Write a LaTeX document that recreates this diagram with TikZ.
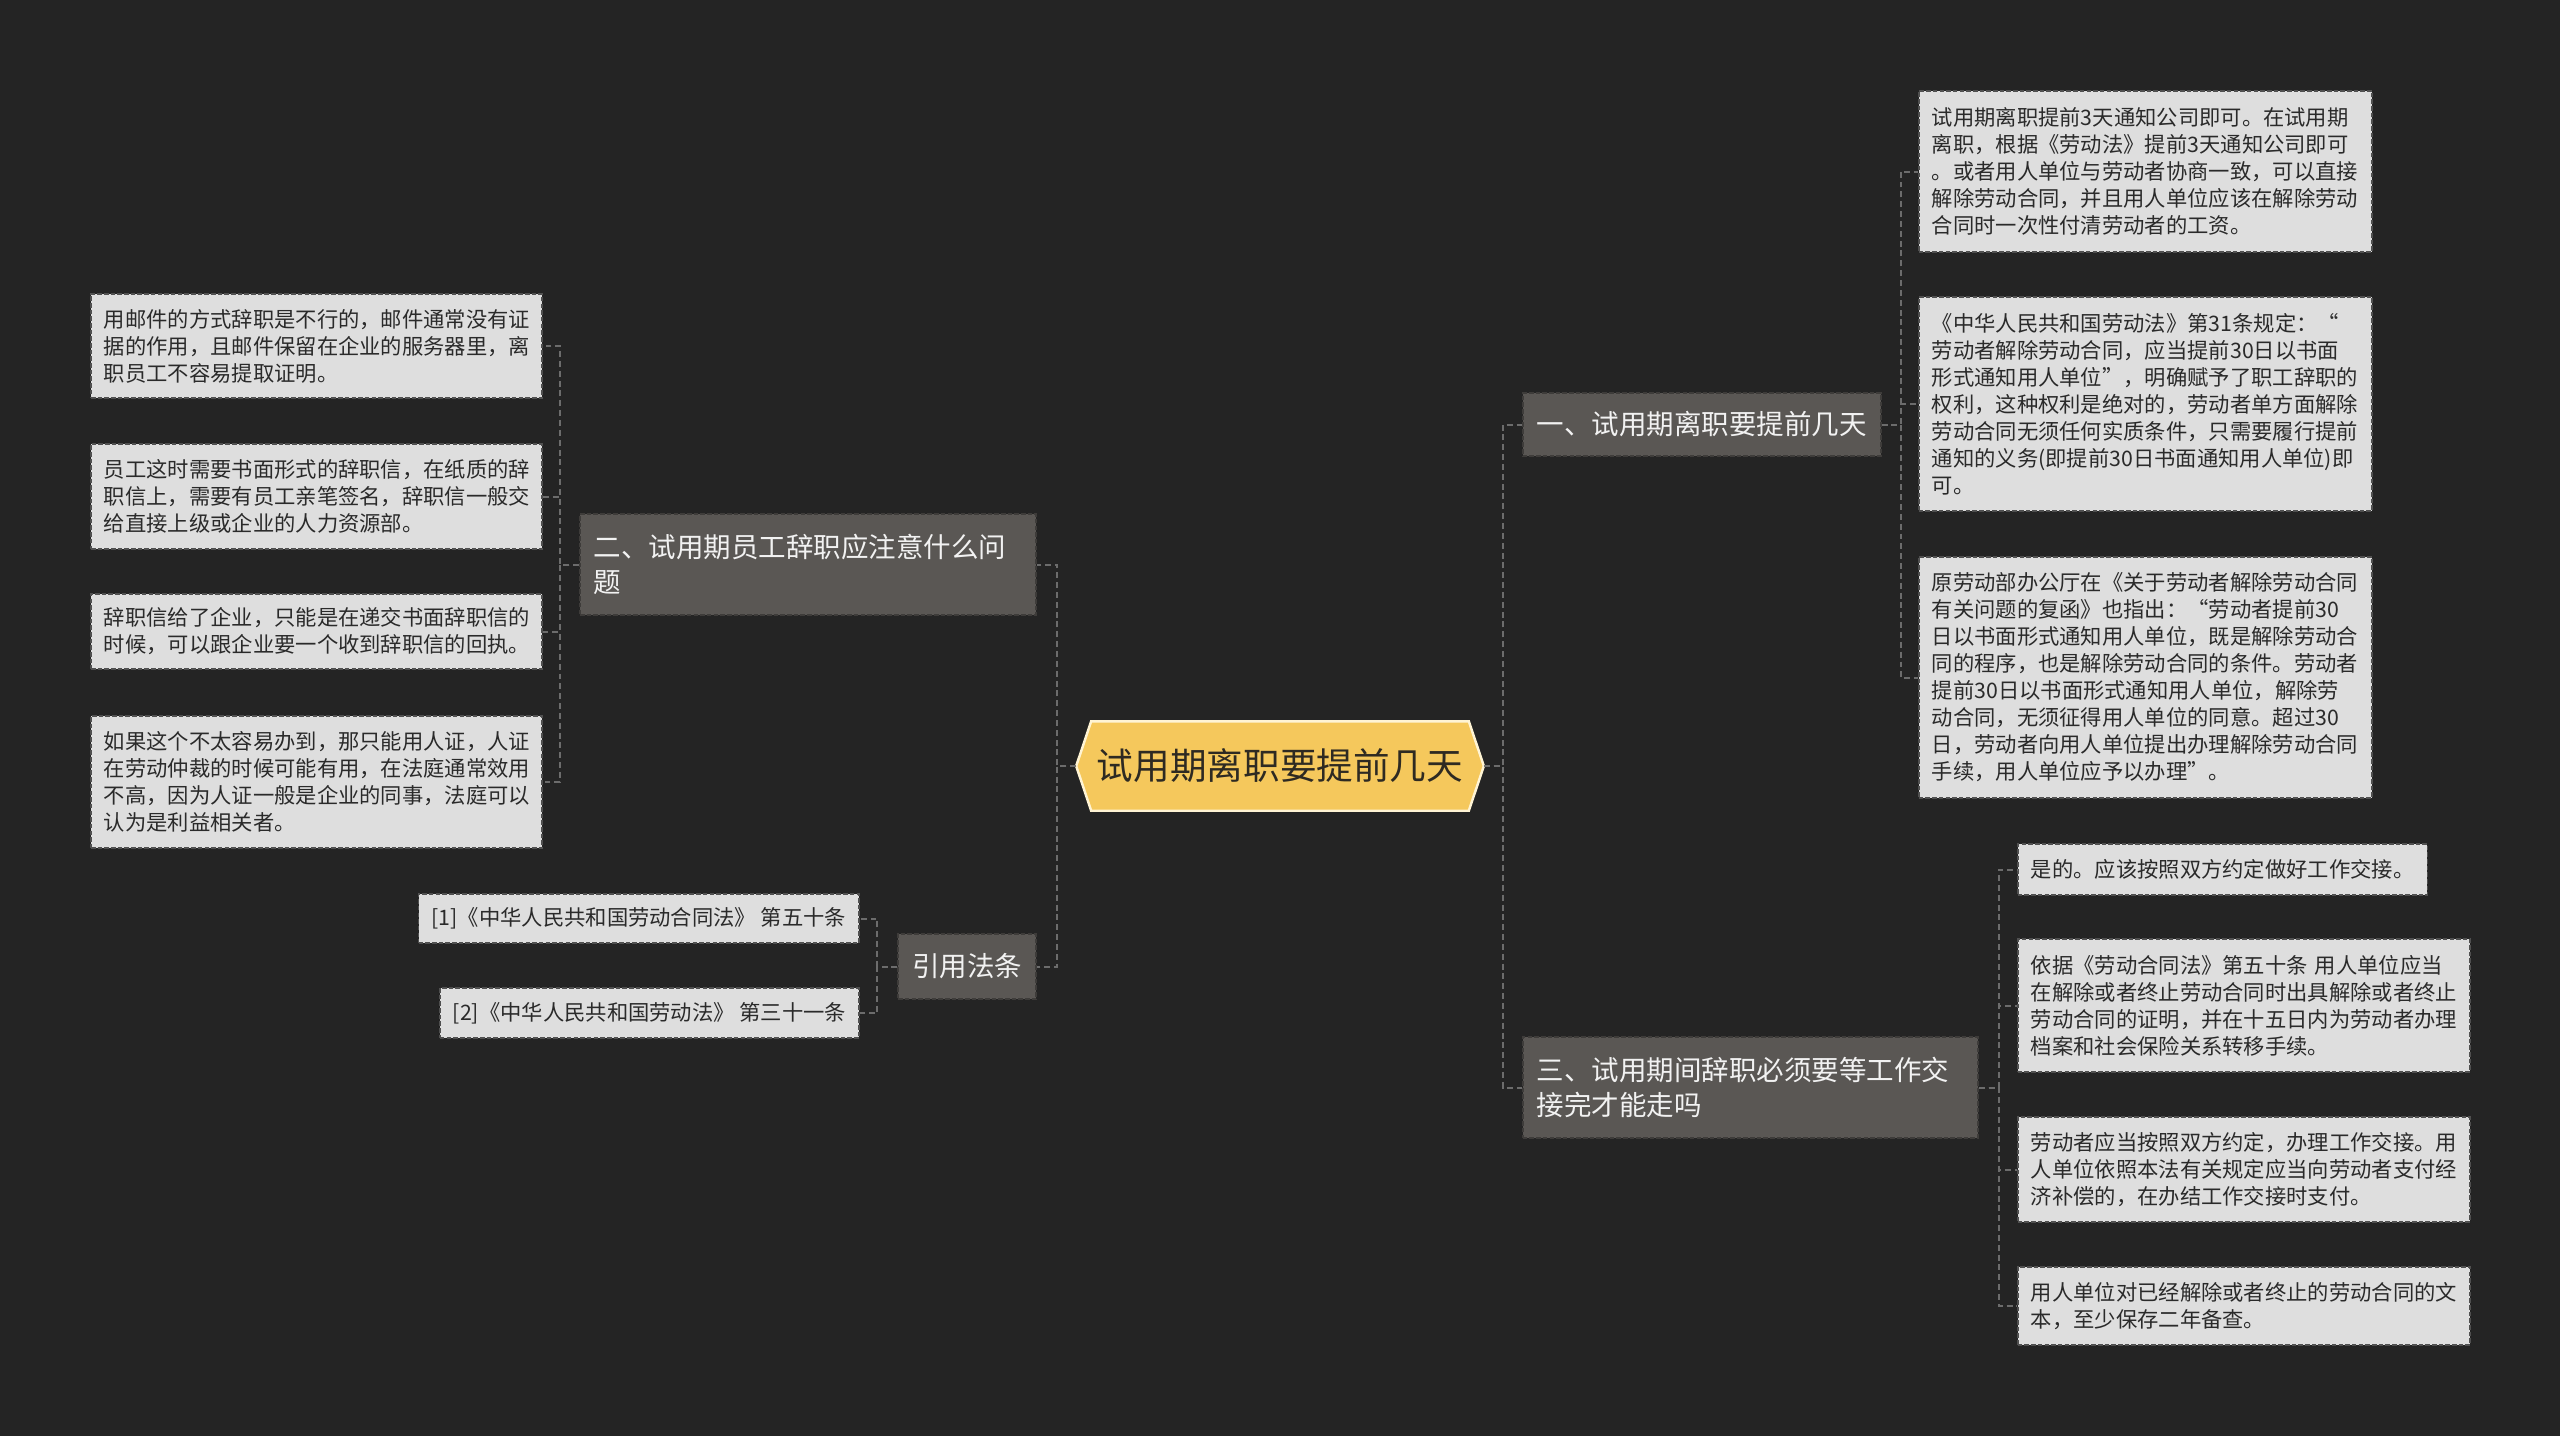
\documentclass[tikz,border=0pt]{standalone}
\usepackage{fontspec}
\setmainfont{Noto Sans CJK SC}
\usetikzlibrary{backgrounds,calc}
\definecolor{bgc}{HTML}{242424}
\definecolor{leaffill}{HTML}{DEDEDE}
\definecolor{leafedge}{HTML}{505050}
\definecolor{leaftext}{HTML}{2A2A2A}
\definecolor{brfill}{HTML}{5A5754}
\definecolor{bredge}{HTML}{3E3C3A}
\definecolor{brtext}{HTML}{F2F2F2}
\definecolor{rootfill}{HTML}{F5C85C}
\definecolor{rootedge}{HTML}{FFF4D4}
\definecolor{roottext}{HTML}{2E2A22}
\definecolor{connc}{HTML}{6C6C6C}
\tikzset{
  leafbox/.style={draw=leafedge, fill=leaffill, text=leaftext, line width=0.45pt,
    dash pattern=on 1.3pt off 0.6pt, inner xsep=0.13cm, inner ysep=0.05cm,
    align=left, font=\fontsize{6.06pt}{7.68pt}\selectfont},
  branchbox/.style={draw=bredge, fill=brfill, text=brtext, line width=0.45pt,
    dash pattern=on 1.3pt off 0.6pt, inner xsep=0.14cm, inner ysep=0.05cm,
    align=left, font=\fontsize{7.82pt}{10.1pt}\selectfont},
  rootbox/.style={text=roottext, inner sep=0pt, align=center,
    font=\fontsize{10.41pt}{12.5pt}\selectfont},
  conn/.style={draw=connc, line width=0.57pt, dash pattern=on 1.7pt off 1.1pt}
}
\begin{document}
\begin{tikzpicture}[x=0.01cm, y=-0.01cm]
\useasboundingbox (0,0) rectangle (2560,1436);

% root
\node[rootbox, minimum width=4.06cm, minimum height=0.88cm] (c) at (1280,766) {试用期离职要提前几天};

% branches
\node[branchbox, anchor=west, minimum height=0.63cm] (b1) at (1522,424.5) {一、试用期离职要提前几天};
\node[branchbox, anchor=west, text width=4.27cm, minimum height=1.01cm] (b3) at (1522,1087.5) {三、试用期间辞职必须要等工作交\\接完才能走吗};
\node[branchbox, anchor=east, text width=4.28cm, minimum height=1.01cm] (b2) at (1037,564.5) {二、试用期员工辞职应注意什么问\\题};
\node[branchbox, anchor=east, minimum height=0.65cm] (b4) at (1037,966.5) {引用法条};

% leaves of branch 1
\node[leafbox, anchor=west, text width=4.27cm, minimum height=1.61cm] (r1) at (1918,171.5) {试用期离职提前3天通知公司即可。在试用期\\离职，根据《劳动法》提前3天通知公司即可\\。或者用人单位与劳动者协商一致，可以直接\\解除劳动合同，并且用人单位应该在解除劳动\\合同时一次性付清劳动者的工资。};
\node[leafbox, anchor=west, text width=4.27cm, minimum height=2.14cm] (r2) at (1918,404) {《中华人民共和国劳动法》第31条规定：“\\劳动者解除劳动合同，应当提前30日以书面\\形式通知用人单位”，明确赋予了职工辞职的\\权利，这种权利是绝对的，劳动者单方面解除\\劳动合同无须任何实质条件，只需要履行提前\\通知的义务(即提前30日书面通知用人单位)即\\可。};
\node[leafbox, anchor=west, text width=4.27cm, minimum height=2.41cm] (r3) at (1918,677.5) {原劳动部办公厅在《关于劳动者解除劳动合同\\有关问题的复函》也指出：“劳动者提前30\\日以书面形式通知用人单位，既是解除劳动合\\同的程序，也是解除劳动合同的条件。劳动者\\提前30日以书面形式通知用人单位，解除劳\\动合同，无须征得用人单位的同意。超过30\\日，劳动者向用人单位提出办理解除劳动合同\\手续，用人单位应予以办理”。};

% leaves of branch 3
\node[leafbox, anchor=west, minimum height=0.51cm] (t1) at (2017,869.5) {是的。应该按照双方约定做好工作交接。};
\node[leafbox, anchor=west, text width=4.26cm, minimum height=1.33cm] (t2) at (2017,1005.5) {依据《劳动合同法》第五十条 用人单位应当\\在解除或者终止劳动合同时出具解除或者终止\\劳动合同的证明，并在十五日内为劳动者办理\\档案和社会保险关系转移手续。};
\node[leafbox, anchor=west, text width=4.26cm, minimum height=1.05cm] (t3) at (2017,1169.5) {劳动者应当按照双方约定，办理工作交接。用\\人单位依照本法有关规定应当向劳动者支付经\\济补偿的，在办结工作交接时支付。};
\node[leafbox, anchor=west, text width=4.26cm, minimum height=0.78cm] (t4) at (2017,1306) {用人单位对已经解除或者终止的劳动合同的文\\本，至少保存二年备查。};

% leaves of branch 2
\node[leafbox, anchor=east, text width=4.25cm, minimum height=1.04cm] (l1) at (543,346) {用邮件的方式辞职是不行的，邮件通常没有证\\据的作用，且邮件保留在企业的服务器里，离\\职员工不容易提取证明。};
\node[leafbox, anchor=east, text width=4.25cm, minimum height=1.05cm] (l2) at (543,496.5) {员工这时需要书面形式的辞职信，在纸质的辞\\职信上，需要有员工亲笔签名，辞职信一般交\\给直接上级或企业的人力资源部。};
\node[leafbox, anchor=east, text width=4.25cm, minimum height=0.75cm] (l3) at (543,631.5) {辞职信给了企业，只能是在递交书面辞职信的\\时候，可以跟企业要一个收到辞职信的回执。};
\node[leafbox, anchor=east, text width=4.25cm, minimum height=1.32cm] (l4) at (543,782) {如果这个不太容易办到，那只能用人证，人证\\在劳动仲裁的时候可能有用，在法庭通常效用\\不高，因为人证一般是企业的同事，法庭可以\\认为是利益相关者。};

% leaves of citations
\node[leafbox, anchor=east, minimum height=0.49cm] (q1) at (860,918.5) {[1]《中华人民共和国劳动合同法》 第五十条};
\node[leafbox, anchor=east, minimum height=0.50cm] (q2) at (860,1013) {[2]《中华人民共和国劳动法》 第三十一条};

% background and root shape
\begin{scope}[on background layer]
  \fill[bgc] (0,0) rectangle (2560,1436);
  \draw[draw=rootedge, fill=rootfill, line width=0.7pt]
    (c.west) -- ($(c.north west)+(15,0)$) -- ($(c.north east)+(-15,0)$) -- (c.east)
    -- ($(c.south east)+(-15,0)$) -- ($(c.south west)+(15,0)$) -- cycle;
\end{scope}

% connectors
\draw[conn] (c.east) -- ++(19,0) |- (b1.west);
\draw[conn] (c.east) -- ++(19,0) |- (b3.west);
\draw[conn] (c.west) -- ++(-19,0) |- (b2.east);
\draw[conn] (c.west) -- ++(-19,0) |- (b4.east);

\draw[conn] (b1.east) -- ++(19,0) |- (r1.west);
\draw[conn] (b1.east) -- ++(19,0) |- (r2.west);
\draw[conn] (b1.east) -- ++(19,0) |- (r3.west);

\draw[conn] (b3.east) -- ++(20,0) |- (t1.west);
\draw[conn] (b3.east) -- ++(20,0) |- (t2.west);
\draw[conn] (b3.east) -- ++(20,0) |- (t3.west);
\draw[conn] (b3.east) -- ++(20,0) |- (t4.west);

\draw[conn] (b2.west) -- ++(-19,0) |- (l1.east);
\draw[conn] (b2.west) -- ++(-19,0) |- (l2.east);
\draw[conn] (b2.west) -- ++(-19,0) |- (l3.east);
\draw[conn] (b2.west) -- ++(-19,0) |- (l4.east);

\draw[conn] (b4.west) -- ++(-20,0) |- (q1.east);
\draw[conn] (b4.west) -- ++(-20,0) |- (q2.east);
\end{tikzpicture}
\end{document}
